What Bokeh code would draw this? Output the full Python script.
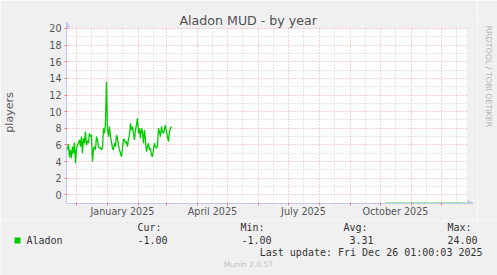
import pandas as pd
from bokeh.plotting import figure
from bokeh.layouts import column, row
from bokeh.models import (FixedTicker, DatetimeTickFormatter, Grid, Label,
                          BoxAnnotation, Arrow, NormalHead, Range1d)
from bokeh.embed import file_html
from bokeh.resources import INLINE

# ---------------- data ----------------
title_text = "Aladon MUD - by year"
y_label = "players"
series_name = "Aladon"
graph_end = "2025-12-26 01:00:03"
span_days = 400

first_day = "2024-11-22"
players = [5.4, 6.1, 4.5, 5.4, 4.4, 5.8, 5.0, 6.3, 3.8, 5.5,
           6.0, 6.2, 6.6, 5.8, 7.0, 5.0, 6.8, 6.2, 7.6, 6.0,
           6.5, 6.2, 7.4, 7.0, 7.2, 4.0, 5.5, 5.8, 5.4, 7.0,
           6.6, 5.8, 5.6, 5.7, 5.4, 5.6, 8.0, 7.4, 8.5, 13.6,
           8.0, 7.0, 8.2, 7.0, 6.4, 5.6, 5.4, 6.2, 5.8, 7.2,
           6.8, 6.0, 5.4, 5.0, 4.6, 5.6, 6.7, 6.6, 6.2, 6.4,
           5.8, 6.7, 7.2, 8.6, 7.8, 8.2, 7.4, 6.6, 7.8, 8.4,
           9.2, 7.4, 8.0, 6.8, 8.0, 7.6, 6.2, 7.8, 6.6, 5.2,
           5.8, 6.2, 5.4, 5.6, 4.8, 4.6, 5.4, 6.2, 5.8, 5.6,
           5.8, 8.0, 7.6, 7.0, 8.2, 7.6, 7.4, 7.8, 8.4, 7.6,
           7.0, 6.4, 7.6, 8.0, 8.2]

down_dates = ["2025-10-06 00:00", "2025-12-26 01:00"]
down_values = [-1, -1]

y_ticks = [0, 2, 4, 6, 8, 10, 12, 14, 16, 18, 20]
y_minor = [1, 3, 5, 7, 9, 11, 13, 15, 17, 19]
y_min, y_max = -1, 20
x_label_dates = ["2025-01-16", "2025-04-16", "2025-07-16", "2025-10-16"]

stat_heads = ["Cur:", "Min:", "Avg:", "Max:"]
stat_values = ["-1.00", "-1.00", "3.31", "24.00"]
last_update = "Last update: Fri Dec 26 01:00:03 2025"
footer = "Munin 2.0.57"
watermark = "RRDTOOL / TOBI OETIKER"

# ---------------- helpers ----------------
DAY = 86400000.0


def ms(ts):
    return pd.Timestamp(ts).value / 1e6


end_ms = ms(graph_end)
start_ms = end_ms - span_days * DAY
dates = pd.date_range(first_day, periods=len(players), freq="D")
down_x = [pd.Timestamp(d) for d in down_dates]
month_ms = [ms(d) for d in pd.date_range("2024-12-01", "2025-12-01", freq="MS")]
mid_ms = [ms(d) + 15 * DAY for d in pd.date_range("2024-11-01", "2025-12-01", freq="MS")]
label_ms = [ms(d) for d in x_label_dates]

AXIS = "#c4c4f4"
MGRID = "#eca4a4"
GRID = "#cccccc"
TXT = "#555555"
BG = "#f0f0f0"

has_cross = "cross_bounds" in Grid.properties()
ext = 7 if has_cross else 0          # room (px) for the axis arrows
px_per_unit = 175.0 / (y_max - y_min)

MW, MH = 477, 220
p = figure(width=MW, height=MH, x_axis_type="datetime", output_backend="svg",
           toolbar_location=None,
           x_range=Range1d(start_ms, end_ms + ext * DAY),
           y_range=Range1d(y_min - 0.04, y_max + ext / px_per_unit),
           min_border_left=66, min_border_right=MW - 466 - ext,
           min_border_top=28 - ext, min_border_bottom=17)
p.background_fill_color = BG if has_cross else "white"
p.border_fill_color = BG
p.outline_line_color = None

if has_cross:
    area = BoxAnnotation(left=start_ms, right=end_ms, bottom=y_min - 0.04, top=y_max,
                         fill_color="white", fill_alpha=1.0, line_color=None,
                         level="image")
    p.add_layout(area)

# title
p.title.text = title_text
p.title.align = "left"
p.title.offset = 113
p.title.text_font = "DejaVu Sans"
p.title.text_font_size = "12.6px"
p.title.text_font_style = "normal"
p.title.text_color = "#505050"
p.title.vertical_align = "bottom"
p.title.standoff = -12

# data
p.line(dates, players, line_color="#00cc00", line_width=1.3)
p.line(down_x, down_values, line_color="#00cc00", line_width=1.2, line_alpha=0.7)

# axes
xa = p.xaxis[0]
xa.ticker = FixedTicker(ticks=label_ms, minor_ticks=month_ms)
xa.formatter = DatetimeTickFormatter(
    milliseconds="%B %Y", seconds="%B %Y", minsec="%B %Y", minutes="%B %Y",
    hourmin="%B %Y", hours="%B %Y", days="%B %Y", months="%B %Y", years="%B %Y")
xa.major_tick_in = 0
xa.major_tick_out = 0
xa.minor_tick_in = 1
xa.minor_tick_out = 2
xa.minor_tick_line_color = "#e88080"
xa.axis_line_color = AXIS
xa.major_label_text_font = "DejaVu Sans"
xa.major_label_text_font_size = "9.6px"
xa.major_label_text_color = TXT
xa.major_label_standoff = 0

ya = p.yaxis[0]
ya.ticker = FixedTicker(ticks=y_ticks, minor_ticks=[])
ya.major_tick_in = 1
ya.major_tick_out = 2
ya.major_tick_line_color = "#e88080"
ya.axis_line_color = AXIS
ya.major_label_text_font = "DejaVu Sans"
ya.major_label_text_font_size = "9.6px"
ya.major_label_text_color = TXT
ya.major_label_standoff = 3
ya.axis_label = y_label
ya.axis_label_text_font = "DejaVu Sans"
ya.axis_label_text_font_size = "11px"
ya.axis_label_text_font_style = "normal"
ya.axis_label_text_color = TXT
ya.axis_label_standoff = 30

# grids
p.xgrid.visible = False
p.ygrid.visible = False
for dim, tk, cb in ((0, FixedTicker(ticks=month_ms, minor_ticks=mid_ms), (y_min - 0.04, y_max)),
                    (1, FixedTicker(ticks=y_ticks, minor_ticks=y_minor), (start_ms, end_ms))):
    kw = dict(dimension=dim, ticker=tk,
              grid_line_color=MGRID, grid_line_dash="1 2", grid_line_width=1,
              minor_grid_line_color=GRID, minor_grid_line_dash="1 2")
    if has_cross:
        kw["cross_bounds"] = cb
    p.add_layout(Grid(**kw), "center")

# axis arrows
if has_cross:
    p.add_layout(Arrow(end=NormalHead(size=6, fill_color=AXIS, line_color=AXIS),
                       x_start=end_ms, y_start=y_min - 0.04,
                       x_end=end_ms + ext * DAY, y_end=y_min - 0.04,
                       line_color=AXIS, line_width=0))
    p.add_layout(Arrow(end=NormalHead(size=6, fill_color=AXIS, line_color=AXIS),
                       x_start=start_ms, y_start=y_max,
                       x_end=start_ms, y_end=y_max + ext / px_per_unit,
                       line_color=AXIS, line_width=0))


def bare(fig):
    fig.background_fill_color = BG
    fig.border_fill_color = BG
    fig.outline_line_color = None
    fig.grid.visible = False
    return fig


# watermark strip on the right
wm = bare(figure(width=497 - MW, height=MH, output_backend="svg", toolbar_location=None,
                 x_range=Range1d(MW, 497), y_range=Range1d(MH, 0),
                 x_axis_location=None, y_axis_location=None,
                 min_border_left=0, min_border_right=0, min_border_top=0,
                 min_border_bottom=0))
wm.add_layout(Label(text=watermark, x=488, y=5, angle=-1.5708, text_align="left",
                    text_baseline="middle", text_font="DejaVu Sans",
                    text_font_size="7.9px", text_color="#b4b4b4"))

# legend block below
LH = 275 - MH
leg = bare(figure(width=497, height=LH, output_backend="svg", toolbar_location=None,
                  x_range=Range1d(0, 497), y_range=Range1d(275, MH),
                  x_axis_location=None, y_axis_location=None,
                  min_border_left=0, min_border_right=0, min_border_top=0,
                  min_border_bottom=0))

MONO = "DejaVu Sans Mono"


def lab(fig, text, x, y, size, color="#333333", align="left", font=MONO):
    fig.add_layout(Label(text=text, x=x, y=y, text_font=font, text_font_size=size,
                         text_color=color, text_align=align, text_baseline="middle"))


heads_x = [137, 240, 343, 447]
vals_x = [137, 241, 349, 447]
for t, x in zip(stat_heads, heads_x):
    lab(leg, t, x, 227, "10px")
for t, x in zip(stat_values, vals_x):
    lab(leg, t, x, 239.5, "10px")
lab(leg, series_name, 26, 239.5, "10px")
lab(leg, last_update, 482, 252, "10px", align="right")
lab(leg, footer, 248, 264, "7.5px", color="#c0c0c0", align="center", font="DejaVu Sans")
leg.add_layout(BoxAnnotation(left=14, right=20, top=237, bottom=243,
                             fill_color="#00cc00", fill_alpha=1.0, line_color=None))

layout = column(row(p, wm, spacing=0), leg, spacing=0)
open("out.html", "w").write(file_html(layout, INLINE))
